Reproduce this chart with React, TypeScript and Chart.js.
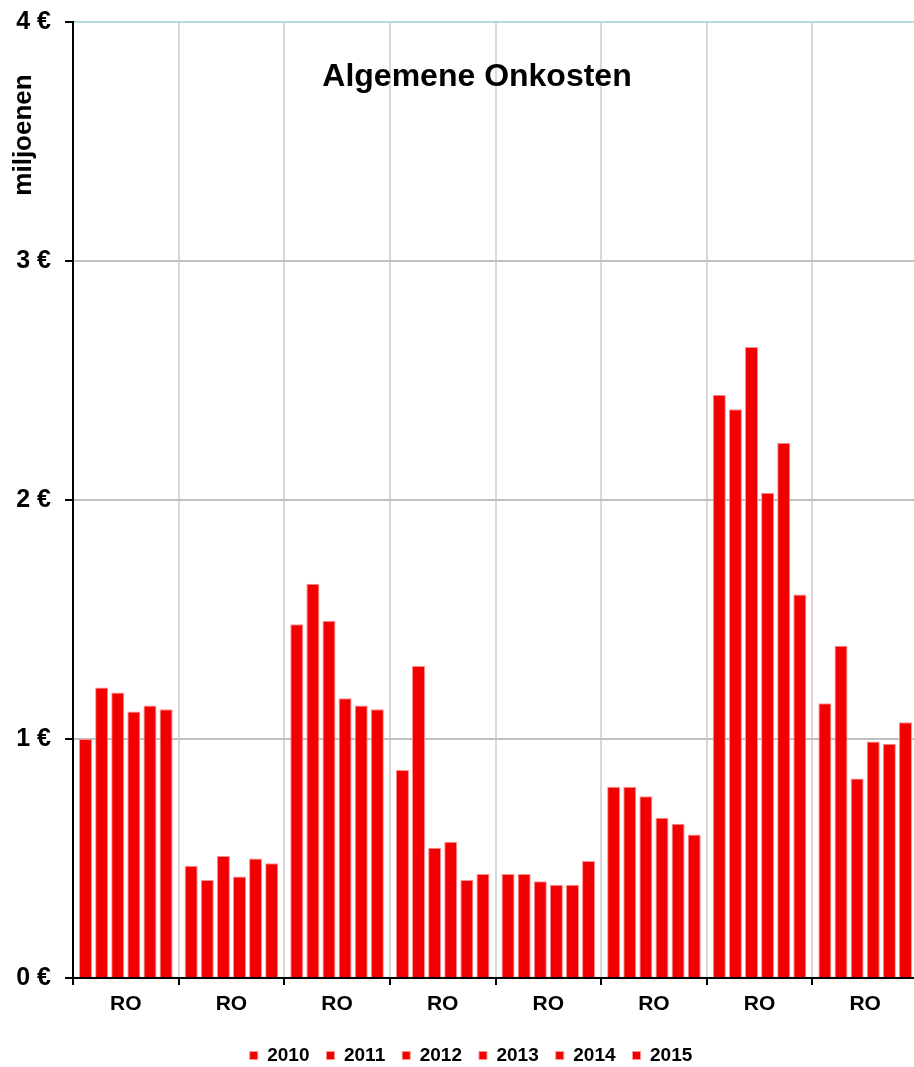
import React, { useEffect, useRef } from 'react';
import { Chart, registerables } from 'chart.js';

Chart.register(...registerables);

const categories = ['RO', 'RO', 'RO', 'RO', 'RO', 'RO', 'RO', 'RO'];
const years = ['2010', '2011', '2012', '2013', '2014', '2015'];
const values2010 = [1.0, 0.47, 1.48, 0.87, 0.435, 0.8, 2.44, 1.15];
const values2011 = [1.215, 0.41, 1.65, 1.305, 0.435, 0.8, 2.38, 1.39];
const values2012 = [1.195, 0.51, 1.495, 0.545, 0.405, 0.76, 2.64, 0.835];
const values2013 = [1.115, 0.425, 1.17, 0.57, 0.39, 0.67, 2.03, 0.99];
const values2014 = [1.14, 0.5, 1.14, 0.41, 0.39, 0.645, 2.24, 0.98];
const values2015 = [1.125, 0.48, 1.125, 0.435, 0.49, 0.6, 1.605, 1.07];
const seriesValues = [values2010, values2011, values2012, values2013, values2014, values2015];
const yMin = 0;
const yMax = 4;
const yStep = 1;
const chartTitle = 'Algemene Onkosten';
const yAxisTitle = 'miljoenen';

const FONT = '"Liberation Sans", Arial, sans-serif';

const textPlugin = {
  id: 'innerTexts',
  afterDraw(chart: any) {
    const { ctx, chartArea } = chart;
    ctx.save();
    ctx.fillStyle = '#000';
    ctx.font = `bold 32px ${FONT}`;
    ctx.textAlign = 'center';
    ctx.textBaseline = 'middle';
    ctx.fillText(chartTitle, chartArea.left + 404, 77);
    ctx.translate(24, 135);
    ctx.rotate(-Math.PI / 2);
    ctx.font = `bold 26px ${FONT}`;
    ctx.fillText(yAxisTitle, 0, 0);
    ctx.restore();
  },
};

export default function App() {
  const ref = useRef<HTMLCanvasElement | null>(null);

  useEffect(() => {
    if (!ref.current) return;
    Chart.defaults.font.family = FONT;
    const chart = new Chart(ref.current, {
      type: 'bar',
      data: {
        labels: categories,
        datasets: years.map((y, i) => ({
          label: y,
          data: seriesValues[i],
          backgroundColor: '#F20000',
          borderColor: '#FF9090',
          borderWidth: 1,
          categoryPercentage: 0.915,
          barPercentage: 0.81,
        })),
      },
      options: {
        animation: false,
        responsive: true,
        maintainAspectRatio: false,
        layout: { padding: { top: 22, left: 24, right: 4, bottom: 0 } },
        plugins: {
          legend: {
            position: 'bottom',
            labels: {
              color: '#000',
              font: { size: 19, weight: 'bold' },
              boxWidth: 8,
              boxHeight: 8,
              padding: 17,
            },
          },
          tooltip: { enabled: false },
          title: { display: false },
        },
        scales: {
          x: {
            type: 'category',
            offset: true,
            grid: {
              display: true,
              offset: true,
              color: '#d9d9d9',
              lineWidth: 2,
              drawTicks: true,
              tickLength: 7,
              tickColor: '#000',
              tickWidth: 2,
            },
            border: { display: true, color: '#000', width: 2 },
            ticks: {
              color: '#000',
              font: { size: 21, weight: 'bold' },
              padding: 7,
              maxRotation: 0,
              autoSkip: false,
            },
            afterFit(scale: any) {
              scale.height = 51;
            },
          },
          y: {
            min: yMin,
            max: yMax,
            grid: {
              color: (c: any) => (c.tick && c.tick.value === yMax ? '#b4dcdc' : '#c0c0c0'),
              lineWidth: 2,
              tickLength: 8,
              tickColor: '#000',
              tickWidth: 2,
            },
            border: { display: true, color: '#000', width: 2 },
            ticks: {
              stepSize: yStep,
              color: '#000',
              font: { size: 25, weight: 'bold' },
              padding: 14,
              callback: (v: any) => `${v} €`,
            },
            title: { display: false },
            afterFit(scale: any) {
              scale.width = 49;
              scale.paddingTop = 10;
              scale.paddingBottom = 10;
              scale._computeLabelArea = () => undefined;
            },
          },
        },
      },
      plugins: [textPlugin],
    });
    return () => chart.destroy();
  }, []);

  return (
    <div style={{ position: 'fixed', left: 0, top: 0, width: 914, height: 1067, overflow: 'hidden', background: '#fff' }}>
      <div style={{ position: 'absolute', left: 0, top: 0, width: 922, height: 1075 }}>
        <canvas ref={ref} />
      </div>
    </div>
  );
}
